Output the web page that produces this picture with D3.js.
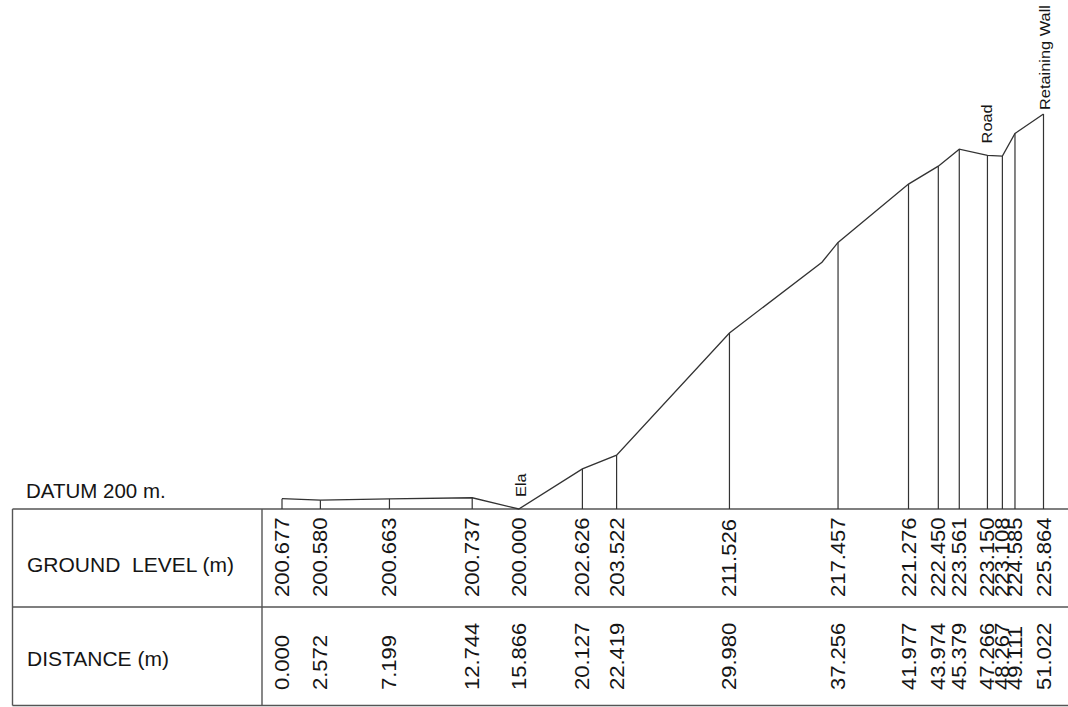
<!DOCTYPE html>
<html>
<head>
<meta charset="utf-8">
<script src="https://cdn.jsdelivr.net/npm/d3@7"></script>
<style>
  html, body { margin: 0; padding: 0; background: #fff; }
  svg { display: block; }
  text { font-family: "Liberation Sans", Arial, sans-serif; fill: #151515; }
</style>
</head>
<body>
<svg id="chart" width="1068" height="707"></svg>
<script>
// ---- data ----
const distances    = [0.000, 2.572, 7.199, 12.744, 15.866, 20.127, 22.419, 29.980, 37.256, 41.977, 43.974, 45.379, 47.266, 48.267, 49.111, 51.022];
const groundLevels = [200.677, 200.580, 200.663, 200.737, 200.000, 202.626, 203.522, 211.526, 217.457, 221.276, 222.450, 223.561, 223.150, 223.108, 224.585, 225.864];
const distanceLabels = ["0.000","2.572","7.199","12.744","15.866","20.127","22.419","29.980","37.256","41.977","43.974","45.379","47.266","48.267","49.111","51.022"];
const levelLabels    = ["200.677","200.580","200.663","200.737","200.000","202.626","203.522","211.526","217.457","221.276","222.450","223.561","223.150","223.108","224.585","225.864"];
// extra bend in the ground line (no table entry)
const extraDistances = [36.18];
const extraLevels    = [216.16];
const datum = 200;
const datumLabel = "DATUM 200 m.";
const rowLabels = ["GROUND  LEVEL (m)", "DISTANCE (m)"];
const featureNames = ["Ela", "Road", "Retaining Wall"];
const featureDistances = [15.866, 47.266, 51.022];
const featureLevels = [200.000, 223.150, 225.864];

// ---- layout ----
const svg = d3.select("#chart");
const x = d3.scaleLinear().domain([0, 51.022]).range([282, 1043.5]);
const y = d3.scaleLinear().domain([datum, 225.864]).range([509, 114]);

const tableTop = y(datum), tableMid = 607, tableBot = 705.5;
const tableLeft = 12.5, tableDiv = 262, tableRight = 1070;
const stroke = "#333";

// table lines
const tbl = svg.append("g").attr("stroke", "#555").attr("stroke-width", 1.4).attr("fill", "none");
[tableTop, tableMid, tableBot].forEach(yy =>
  tbl.append("line").attr("x1", tableLeft).attr("x2", tableRight).attr("y1", yy).attr("y2", yy));
[tableLeft, tableDiv].forEach(xx =>
  tbl.append("line").attr("x1", xx).attr("x2", xx).attr("y1", tableTop).attr("y2", tableBot));

// row labels
svg.append("text").attr("x", 26).attr("y", 498).attr("font-size", 20.5).text(datumLabel);
svg.append("text").attr("x", 27).attr("y", 572).attr("font-size", 21).text(rowLabels[0]).style("white-space", "pre");
svg.append("text").attr("x", 27).attr("y", 666).attr("font-size", 21).text(rowLabels[1]);

// profile points
const pts = distances.map((d, i) => ({ d, l: groundLevels[i] }));
const allPts = pts.concat(extraDistances.map((d, i) => ({ d, l: extraLevels[i] })))
  .sort((a, b) => a.d - b.d);

// verticals
svg.append("g").selectAll("line").data(pts).join("line")
  .attr("x1", p => x(p.d)).attr("x2", p => x(p.d))
  .attr("y1", p => y(p.l)).attr("y2", tableTop)
  .attr("stroke", stroke).attr("stroke-width", 1.2);

// ground line
svg.append("path")
  .datum(allPts)
  .attr("d", d3.line().x(p => x(p.d)).y(p => y(p.l)))
  .attr("fill", "none").attr("stroke", stroke).attr("stroke-width", 1.3);

// rotated numbers
function rotLabels(labels, baseY) {
  svg.append("g").selectAll("text").data(labels).join("text")
    .attr("transform", (t, i) => `translate(${x(distances[i])},${baseY}) rotate(-90) scale(1.13,1)`)
    .attr("dy", "0.36em")
    .attr("font-size", 19.5)
    .text(t => t);
}
rotLabels(levelLabels, 597);
rotLabels(distanceLabels, 690);

// feature annotations
const featOffsets = [[7, -12], [5, -12], [6, -4]];
svg.append("g").selectAll("text").data(featureNames).join("text")
  .attr("transform", (t, i) => `translate(${x(featureDistances[i]) + featOffsets[i][0]},${y(featureLevels[i]) + featOffsets[i][1]}) rotate(-90) scale(1.13,1)`)
  .attr("font-size", 14.5)
  .text(t => t);
</script>
</body>
</html>
